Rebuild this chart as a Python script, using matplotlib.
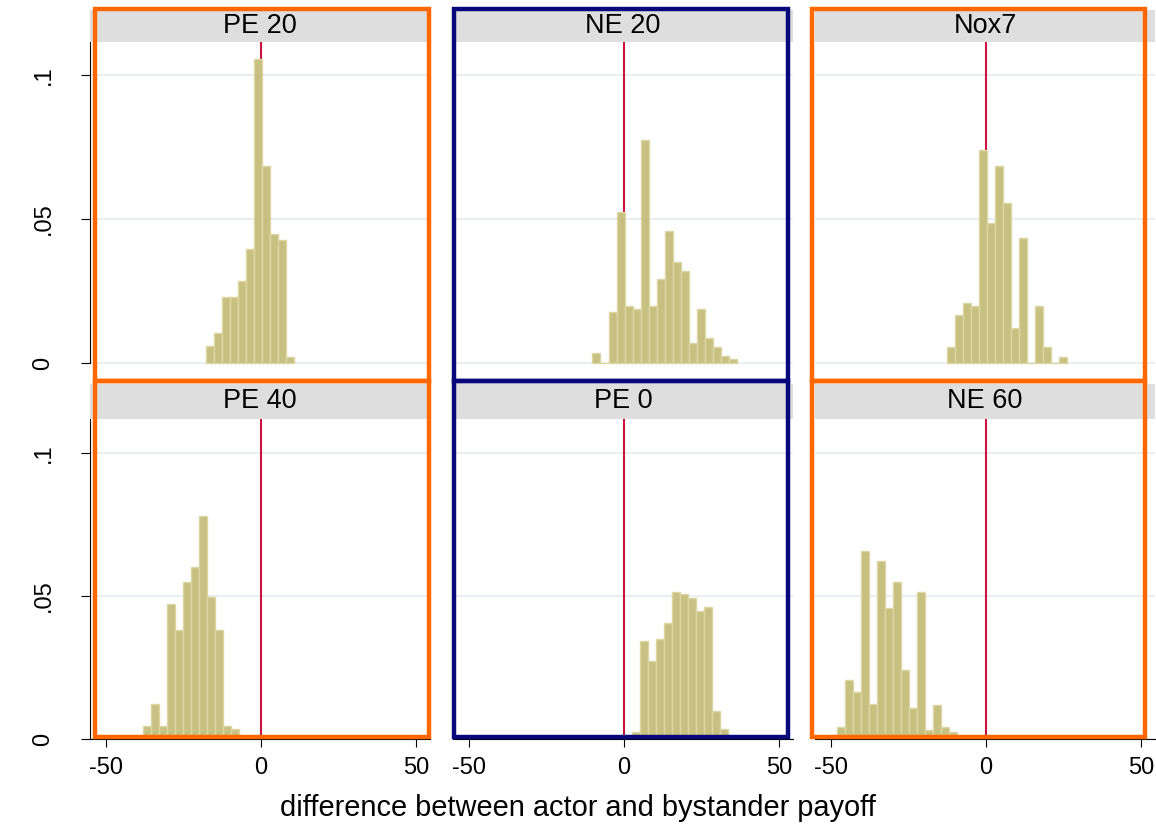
"""
Histogramas por tratamiento: diferencia entre pago del actor y del espectador
"""
import matplotlib.pyplot as plt
from matplotlib.patches import Rectangle

plt.rcParams['font.family'] = ['Liberation Sans', 'DejaVu Sans']
plt.rcParams['axes.unicode_minus'] = False

# Datos (densidades)
panel_titles = ['PE 20', 'NE 20', 'Nox7', 'PE 40', 'PE 0', 'NE 60']
bin_start = [-17.7, -10.2, -12.6, -38.0, 2.5, -48.2]
bin_width = [2.58, 2.59, 2.57, 2.58, 2.59, 2.59]

dens_pe20 = [0.0059, 0.0103, 0.0230, 0.0230, 0.0286, 0.0395, 0.1056,
             0.0686, 0.0447, 0.0427, 0.0022]
dens_ne20 = [0.0034, 0.0, 0.0176, 0.0524, 0.0199, 0.0186, 0.0774, 0.0199,
             0.0293, 0.0459, 0.0352, 0.0318, 0.0068, 0.0186, 0.0088,
             0.0057, 0.0024, 0.0015]
dens_nox7 = [0.0057, 0.0166, 0.0209, 0.0199, 0.0740, 0.0487, 0.0686,
             0.0557, 0.0120, 0.0435, 0.0, 0.0199, 0.0057, 0.0, 0.0022]
dens_pe40 = [0.0045, 0.0121, 0.0045, 0.0471, 0.0381, 0.0549, 0.0603,
             0.0780, 0.0495, 0.0381, 0.0045, 0.0034]
dens_pe0 = [0.0023, 0.0341, 0.0273, 0.0351, 0.0407, 0.0515, 0.0506,
            0.0494, 0.0448, 0.0460, 0.0099, 0.0035]
dens_ne60 = [0.0043, 0.0206, 0.0163, 0.0657, 0.0121, 0.0623, 0.0459,
             0.0548, 0.0241, 0.0110, 0.0515, 0.0031, 0.0119, 0.0043, 0.0023]
densities = [dens_pe20, dens_ne20, dens_nox7, dens_pe40, dens_pe0, dens_ne60]

xticks = [-50, 0, 50]
xtick_labels = ['-50', '0', '50']
yticks = [0, 0.05, 0.1]
ytick_labels = ['0', '.05', '.1']
xtitle = 'difference between actor and bystander payoff'

# Estilo
W, H = 1156, 824
ORANGE = '#ff6800'
NAVY = '#08087a'
frame_colors = [ORANGE, NAVY, ORANGE, ORANGE, NAVY, ORANGE]
bar_face = '#c8c081'
bar_edge = '#dcd6a4'
grid_col = '#e6eef0'
red = '#c8143c'
strip_col = '#dedede'

col_left = [90, 453, 815]
panel_w = 340
row_plot = [(42, 381), (419, 739)]      # (arriba, abajo) en píxeles
row_strip = [(10, 42), (384, 419)]
row_ylim = [(-0.00625, 0.1115), (0.0, 0.1119)]
xlim = (-55.2, 54.5)


def fig_box(x0, y0, x1, y1):
    """Convierte una caja en píxeles (origen arriba) a fracción de figura."""
    return [x0 / W, 1 - y1 / H, (x1 - x0) / W, (y1 - y0) / H]


fig = plt.figure(figsize=(W / 100, H / 100), dpi=100)

for i in range(6):
    r, c = divmod(i, 3)
    x0 = col_left[c]
    top, bot = row_plot[r]
    ax = fig.add_axes(fig_box(x0, top, x0 + panel_w, bot))
    ax.set_xlim(*xlim)
    ax.set_ylim(*row_ylim[r])

    ax.set_yticks(yticks)
    ax.yaxis.grid(True, color=grid_col, linewidth=1.3, zorder=0)
    ax.set_axisbelow(True)

    ax.vlines(0, 0, row_ylim[r][1], color=red, linewidth=1.5, zorder=1)

    lefts = [bin_start[i] + k * bin_width[i] for k in range(len(densities[i]))]
    ax.bar(lefts, densities[i], width=bin_width[i], align='edge',
           color=bar_face, edgecolor=bar_edge, linewidth=1.0, zorder=2)

    for s in ['top', 'right']:
        ax.spines[s].set_visible(False)
    ax.spines['left'].set_visible(c == 0)
    ax.spines['left'].set_bounds(0, row_ylim[r][1])
    ax.spines['left'].set_linewidth(0.8)
    ax.spines['bottom'].set_visible(r == 1)
    ax.spines['bottom'].set_linewidth(0.8)

    if c == 0:
        ax.set_yticklabels(ytick_labels, rotation=90, va='center', fontsize=17)
        ax.tick_params(axis='y', length=6.5, width=0.8, pad=19)
    else:
        ax.tick_params(axis='y', left=False, labelleft=False)

    ax.set_xticks(xticks)
    if r == 1:
        ax.set_xticklabels(xtick_labels, fontsize=17)
        ax.tick_params(axis='x', length=6, width=0.8, pad=7)
    else:
        ax.tick_params(axis='x', bottom=False, labelbottom=False)

    # franja del título del panel
    s_top, s_bot = row_strip[r]
    fig.add_artist(Rectangle(fig_box(x0, s_top, x0 + panel_w, s_bot)[:2],
                             panel_w / W, (s_bot - s_top) / H,
                             transform=fig.transFigure, facecolor=strip_col,
                             edgecolor='none', zorder=3))
    fig.text((x0 + panel_w / 2) / W, 1 - (s_top + s_bot) / 2 / H,
             panel_titles[i], ha='center', va='center', fontsize=19.5,
             zorder=4)

# marcos de color
frame_x = [(95, 429), (454, 787.5), (811.5, 1145)]
frame_y = [(9, 381), (381, 736.5)]
for i in range(6):
    r, c = divmod(i, 3)
    fx0, fx1 = frame_x[c]
    fy0, fy1 = frame_y[r]
    b = fig_box(fx0, fy0, fx1, fy1)
    fig.add_artist(Rectangle(b[:2], b[2], b[3], transform=fig.transFigure,
                             facecolor='none', edgecolor=frame_colors[i],
                             linewidth=3.2, zorder=10))

fig.text(578 / W, 1 - 808 / H, xtitle, ha='center', va='center', fontsize=20.9)

plt.savefig('out.png', dpi=100)
